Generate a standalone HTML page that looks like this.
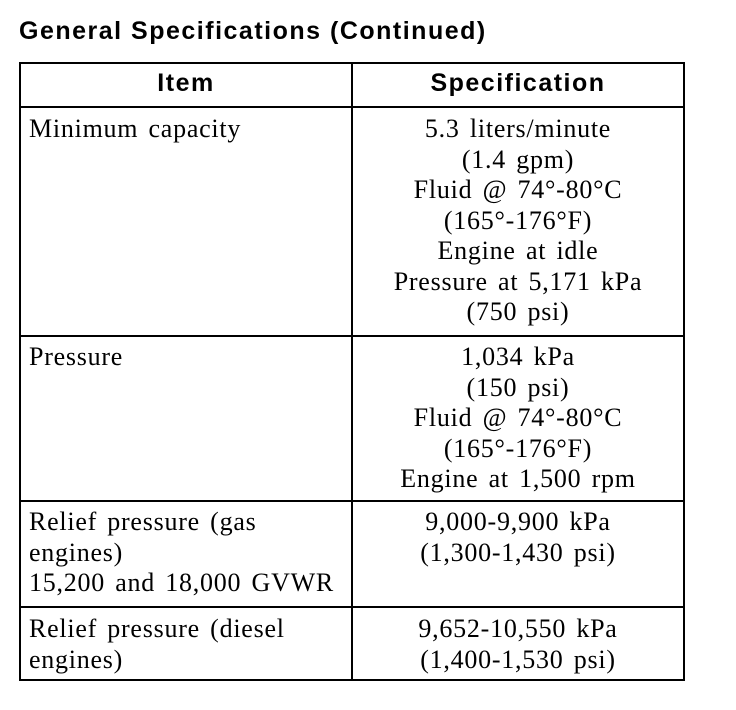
<!DOCTYPE html>
<html><head><style>
body{margin:0;width:736px;height:710px;background:#fff;position:relative;overflow:hidden}
.t{position:absolute;font-family:"Liberation Serif",serif;font-size:26px;letter-spacing:0.75px;word-spacing:3px;line-height:30.5px;color:#000;white-space:nowrap}
.c{left:352px;width:332px;text-align:center}
.l{left:29px}
.h{position:absolute;background:#000;height:2px}
.v{position:absolute;background:#000;width:2px}
.b{position:absolute;font-family:"Liberation Sans",sans-serif;font-weight:bold;font-size:25px;letter-spacing:1.5px;color:#000;white-space:nowrap}
</style></head><body>
<div class="b" style="left:19px;top:17px">General Specifications (Continued)</div>
<div class="h" style="left:19px;width:666px;top:62px"></div>
<div class="h" style="left:19px;width:666px;top:106px"></div>
<div class="h" style="left:19px;width:666px;top:335px"></div>
<div class="h" style="left:19px;width:666px;top:500px"></div>
<div class="h" style="left:19px;width:666px;top:606px"></div>
<div class="h" style="left:19px;width:666px;top:679px"></div>
<div class="v" style="left:19px;top:62px;height:619px"></div>
<div class="v" style="left:351px;top:62px;height:619px"></div>
<div class="v" style="left:683px;top:62px;height:619px"></div>
<div class="b" style="left:21px;width:330px;text-align:center;top:69px">Item</div>
<div class="b" style="left:353px;width:330px;text-align:center;top:69px">Specification</div>
<div class="t l" style="top:114px">Minimum capacity</div>
<div class="t c" style="top:114px">5.3 liters/minute<br>(1.4 gpm)<br>Fluid @ 74°-80°C<br>(165°-176°F)<br>Engine at idle<br>Pressure at 5,171 kPa<br>(750 psi)</div>
<div class="t l" style="top:342px">Pressure</div>
<div class="t c" style="top:342px">1,034 kPa<br>(150 psi)<br>Fluid @ 74°-80°C<br>(165°-176°F)<br>Engine at 1,500 rpm</div>
<div class="t l" style="top:507px">Relief pressure (gas<br>engines)<br>15,200 and 18,000 GVWR</div>
<div class="t c" style="top:507px">9,000-9,900 kPa<br>(1,300-1,430 psi)</div>
<div class="t l" style="top:614px">Relief pressure (diesel<br>engines)</div>
<div class="t c" style="top:614px">9,652-10,550 kPa<br>(1,400-1,530 psi)</div>
</body></html>
